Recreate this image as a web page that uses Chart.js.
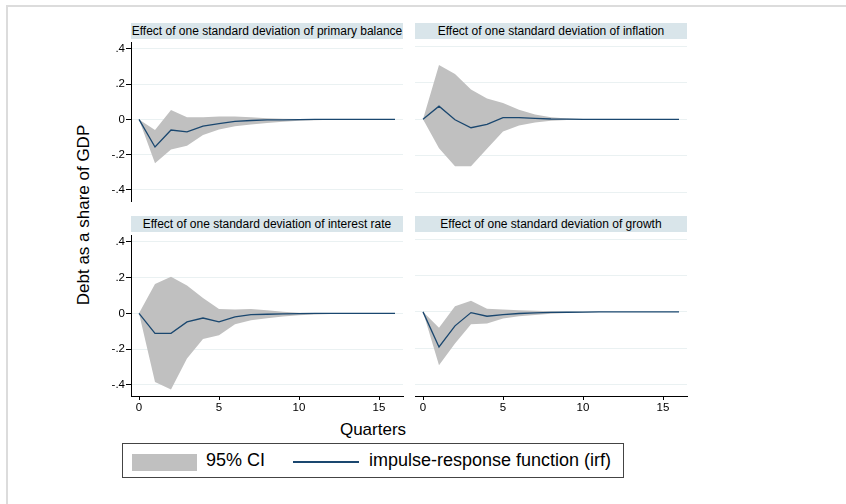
<!DOCTYPE html>
<html>
<head>
<meta charset="utf-8">
<script src="https://cdn.jsdelivr.net/npm/chart.js@4.4.1/dist/chart.umd.min.js"></script>
<style>
  body { margin: 0; background: #fff; font-family: "Liberation Sans", Arial, sans-serif; }
  #wrap { position: relative; width: 846px; height: 504px; overflow: hidden; }
  .frame { position: absolute; left: 6px; top: 5px; width: 900px; height: 600px;
           border-left: 2px solid #dcdcdc; border-top: 2px solid #dcdcdc; }
  .panel { position: absolute; }
  .band { position: absolute; height: 16px; background: #d9e5ea; font-size: 12px;
          line-height: 16px; text-align: center; white-space: nowrap; color: #000;
          display: flex; justify-content: center; }
  .ytitle { position: absolute; left: 84px; top: 215px; font-size: 17px; white-space: nowrap;
            transform: translate(-50%, -50%) rotate(-90deg); }
  .xtitle { position: absolute; left: 373px; top: 430px; font-size: 17px;
            transform: translate(-50%, -50%); white-space: nowrap; }
  .legend { position: absolute; left: 122px; top: 443px; width: 500px; height: 33px;
            border: 1px solid #444; font-size: 18px; }
  .legend span, .legend i { position: absolute; }
</style>
</head>
<body>
<div id="wrap">
  <div class="frame"></div>
  <div class="ytitle">Debt as a share of GDP</div>
  <div class="xtitle">Quarters</div>
  <div class="legend">
    <i style="left:9px;top:10px;width:65px;height:17px;background:#c0c0c0"></i>
    <span style="left:83px;top:6px">95% CI</span>
    <i style="left:170px;top:17px;width:66px;height:2px;background:#1a476f"></i>
    <span style="left:246px;top:6px">impulse-response function (irf)</span>
  </div>
</div>

<script>
// ---------------------------------------------
// DATA
// ---------------------------------------------
const quarters = [0, 1, 2, 3, 4, 5, 6, 7, 8, 9, 10, 11, 12, 13, 14, 15, 16];
const xTicks = [0, 5, 10, 15];
const yTicks = [-0.4, -0.2, 0, 0.2, 0.4];
const yTickLabels = ['-.4', '-.2', '0', '.2', '.4'];

const titles = [
    'Effect of one standard deviation of primary balance',
    'Effect of one standard deviation of inflation',
    'Effect of one standard deviation of interest rate',
    'Effect of one standard deviation of growth'
];

// primary balance
const irfPrimary   = [0, -0.156, -0.060, -0.070, -0.038, -0.024, -0.011, -0.006, -0.003, -0.002, -0.001, 0, 0, 0, 0, 0, 0];
const upperPrimary = [0, -0.060, 0.053, 0.013, 0.013, 0.016, 0.016, 0.013, 0.007, 0.004, 0.002, 0.001, 0, 0, 0, 0, 0];
const lowerPrimary = [0, -0.248, -0.170, -0.149, -0.088, -0.057, -0.039, -0.028, -0.020, -0.013, -0.007, -0.004, -0.002, -0.001, 0, 0, 0];

// inflation
const irfInflation   = [0, 0.072, -0.002, -0.046, -0.028, 0.009, 0.009, 0.005, 0.002, 0.001, 0, 0, 0, 0, 0, 0, 0];
const upperInflation = [0, 0.297, 0.248, 0.163, 0.114, 0.090, 0.053, 0.026, 0.011, 0.004, 0.002, 0.001, 0, 0, 0, 0, 0];
const lowerInflation = [0, -0.158, -0.257, -0.257, -0.161, -0.066, -0.033, -0.017, -0.007, -0.003, -0.001, 0, 0, 0, 0, 0, 0];

// interest rate
const irfInterest   = [0, -0.112, -0.112, -0.048, -0.026, -0.048, -0.020, -0.007, -0.005, -0.003, -0.001, 0, 0, 0, 0, 0, 0];
const upperInterest = [0, 0.165, 0.205, 0.156, 0.086, 0.024, 0.022, 0.024, 0.017, 0.009, 0.004, 0.002, 0.001, 0, 0, 0, 0];
const lowerInterest = [0, -0.385, -0.426, -0.253, -0.143, -0.123, -0.061, -0.039, -0.028, -0.018, -0.011, -0.006, -0.003, -0.001, 0, 0, 0];

// growth
const irfGrowth   = [0, -0.193, -0.077, -0.004, -0.024, -0.015, -0.009, -0.006, -0.003, -0.002, -0.001, 0, 0, 0, 0, 0, 0];
const upperGrowth = [0, -0.088, 0.031, 0.061, 0.017, 0.013, 0.009, 0.006, 0.003, 0.001, 0, 0, 0, 0, 0, 0, 0];
const lowerGrowth = [0, -0.294, -0.174, -0.068, -0.064, -0.037, -0.024, -0.017, -0.011, -0.006, -0.003, -0.001, 0, 0, 0, 0, 0];

// ---------------------------------------------
// LAYOUT (plot area of each panel, in page px)
// ---------------------------------------------
const cols = [{ left: 131, right: 403 }, { left: 415, right: 687 }];
const rows = [{ top: 40, bottom: 204 }, { top: 233, bottom: 396 }];

const panels = [
    { irf: irfPrimary,   upper: upperPrimary,   lower: lowerPrimary,   col: 0, row: 0 },
    { irf: irfInflation, upper: upperInflation, lower: lowerInflation, col: 1, row: 0 },
    { irf: irfInterest,  upper: upperInterest,  lower: lowerInterest,  col: 0, row: 1 },
    { irf: irfGrowth,    upper: upperGrowth,    lower: lowerGrowth,    col: 1, row: 1 }
];

const wrap = document.getElementById('wrap');
const pts = arr => quarters.map((q, i) => ({ x: q, y: arr[i] }));

panels.forEach((p, k) => {
    const c = cols[p.col];
    const r = rows[p.row];
    const showY = p.col === 0;
    const showX = p.row === 1;
    const yW = showY ? 35 : 0;
    const xH = showX ? 18 : 0;
    const pad = 5;

    // title band
    const band = document.createElement('div');
    band.className = 'band';
    band.style.left = c.left + 'px';
    band.style.width = (c.right - c.left) + 'px';
    band.style.top = (r.top - 17) + 'px';
    band.innerHTML = '<span>' + titles[k] + '</span>';
    wrap.appendChild(band);

    const box = document.createElement('div');
    box.className = 'panel';
    const w = (c.right - c.left) + yW + pad;
    const h = (r.bottom - r.top) + xH + pad * 2;
    box.style.left = (c.left - yW) + 'px';
    box.style.top = (r.top - pad) + 'px';
    box.style.width = w + 'px';
    box.style.height = h + 'px';
    const canvas = document.createElement('canvas');
    box.appendChild(canvas);
    wrap.appendChild(box);

    new Chart(canvas.getContext('2d'), {
        type: 'line',
        data: {
            datasets: [
                { data: pts(p.lower), borderWidth: 0, pointRadius: 0, fill: false, order: 2 },
                { data: pts(p.upper), borderWidth: 0, pointRadius: 0, fill: '-1',
                  backgroundColor: '#c0c0c0', order: 2 },
                { data: pts(p.irf), borderColor: '#1a476f', borderWidth: 1.3, pointRadius: 0,
                  fill: false, order: 1 }
            ]
        },
        options: {
            responsive: true,
            maintainAspectRatio: false,
            animation: false,
            layout: { padding: { top: pad, right: pad, bottom: showX ? pad : pad, left: 0 } },
            plugins: { legend: { display: false }, tooltip: { enabled: false } },
            elements: { line: { tension: 0 } },
            scales: {
                x: {
                    type: 'linear',
                    min: -0.5,
                    max: 16.5,
                    display: showX,
                    afterBuildTicks: s => { s.ticks = xTicks.map(v => ({ value: v })); },
                    afterFit: s => { s.height = xH; },
                    grid: { drawOnChartArea: false, tickLength: 4, tickColor: '#000' },
                    border: { color: '#000', width: 1 },
                    ticks: { color: '#000', padding: 1, font: { family: 'Liberation Sans, Arial', size: 11.5 } }
                },
                y: {
                    type: 'linear',
                    min: -0.463,
                    max: 0.434,
                    afterBuildTicks: s => { s.ticks = yTicks.map(v => ({ value: v })); },
                    afterFit: s => { s.width = yW; },
                    grid: { color: '#eaf1f2', lineWidth: 1, drawTicks: showY, tickLength: 5, tickColor: '#000' },
                    border: { display: showY, color: '#000', width: 1 },
                    ticks: {
                        display: showY,
                        color: '#000',
                        padding: 1,
                        font: { family: 'Liberation Sans, Arial', size: 11.5 },
                        callback: v => {
                            const i = yTicks.findIndex(t => Math.abs(t - v) < 1e-9);
                            return i >= 0 ? yTickLabels[i] : '';
                        }
                    }
                }
            }
        }
    });
});
</script>
</body>
</html>
